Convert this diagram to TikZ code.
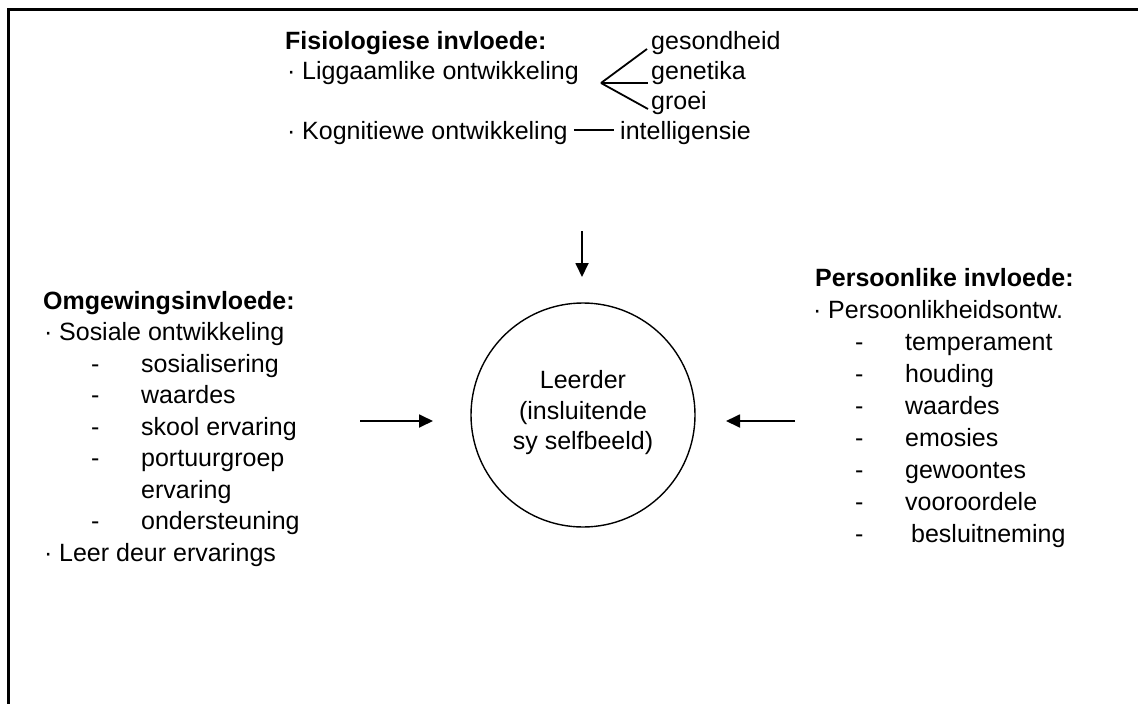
\documentclass[tikz,border=0pt]{standalone}
\usepackage{fontspec}
\setmainfont{Liberation Sans}
\usetikzlibrary{positioning,arrows.meta}
\tikzset{>={Triangle[length=14pt,width=13pt]}}

\newcommand{\bul}{\makebox[15pt][l]{\textperiodcentered}}
\newcommand{\dsh}{\makebox[50pt][l]{-}}

\begin{document}
\begin{tikzpicture}[x=1pt,y=-1pt,
    every node/.style={anchor=base west,inner sep=0pt,
      font=\fontsize{25}{30.5}\selectfont},
    pijl/.style={->,line width=1.8pt},
    tak/.style={line width=1.8pt}]
      \useasboundingbox (0,0) rectangle (1138,704);
      \draw[line width=3pt] (8,704) -- (8,9) -- (1138,9);

      % fisiologiese invloede
      \node (FisN)  at (285,49)  {\textbf{Fisiologiese invloede:}};
      \node (LigN)  at (287,79)  {\bul Liggaamlike ontwikkeling};
      \node (gesN)  at (651,49)  {gesondheid};
      \node (genN)  at (651,79)  {genetika};
      \node (groN)  at (651,109) {groei};
      \node (KogN)  at (287,139) {\bul Kognitiewe ontwikkeling};
      \node (intN)  at (620,139) {intelligensie};
      \coordinate (brak) at (601,83);

      \draw[tak] (brak) -- ([xshift=-4pt]gesN.base west);
      \draw[tak] (brak) -- ([shift={(-3,4)}]genN.base west);
      \draw[tak] (brak) -- ([xshift=-3pt]groN.base west);
      \draw[tak] ([shift={(6,-9)}]KogN.base east) -- ([shift={(-6,-9)}]intN.base west);

      % omgewingsinvloede
      \node (OmgN)  at (43,309)   {\textbf{Omgewingsinvloede:}};
      \node (SosN)  at (44,340.5) {\bul Sosiale ontwikkeling};
      \node (sosN)  at (91,372)   {\dsh sosialisering};
      \node (waaN)  at (91,403.5) {\dsh waardes};
      \node (skoN)  at (91,435)   {\dsh skool ervaring};
      \node (porN)  at (91,466.5) {\dsh portuurgroep};
      \node (erv2N) at (141,498)  {ervaring};
      \node (ondN)  at (91,529.5) {\dsh ondersteuning};
      \node (LeeN)  at (44,561)   {\bul Leer deur ervarings};

      % persoonlike invloede
      \node (PerN)  at (815,286) {\textbf{Persoonlike invloede:}};
      \node (PoN)   at (813,318) {\bul Persoonlikheidsontw.};
      \node (temN)  at (855,350) {\dsh temperament};
      \node (houN)  at (855,382) {\dsh houding};
      \node (wa2N)  at (855,414) {\dsh waardes};
      \node (emoN)  at (855,446) {\dsh emosies};
      \node (gewN)  at (855,478) {\dsh gewoontes};
      \node (vooN)  at (855,510) {\dsh vooroordele};
      \node (besN)  at (855,542) {\makebox[56pt][l]{-}besluitneming};

      % leerder
      \node[draw,circle,anchor=center,minimum size=224pt,line width=1.4pt] (Leerder) at (583,415) {};
      \node[anchor=center,align=center] (LeerderT) at (583,413) {Leerder\\(insluitende\\sy selfbeeld)};

      \coordinate (topA) at (582,231);
      \coordinate (topB) at (582,277);
      \coordinate (linA) at (360,421);
      \coordinate (linB) at (433,421);
      \coordinate (regA) at (795,421);
      \coordinate (regB) at (726,421);

      \draw[pijl] (topA) -- (topB);
      \draw[pijl] (linA) -- (linB);
      \draw[pijl] (regA) -- (regB);
    \end{tikzpicture}
\end{document}
